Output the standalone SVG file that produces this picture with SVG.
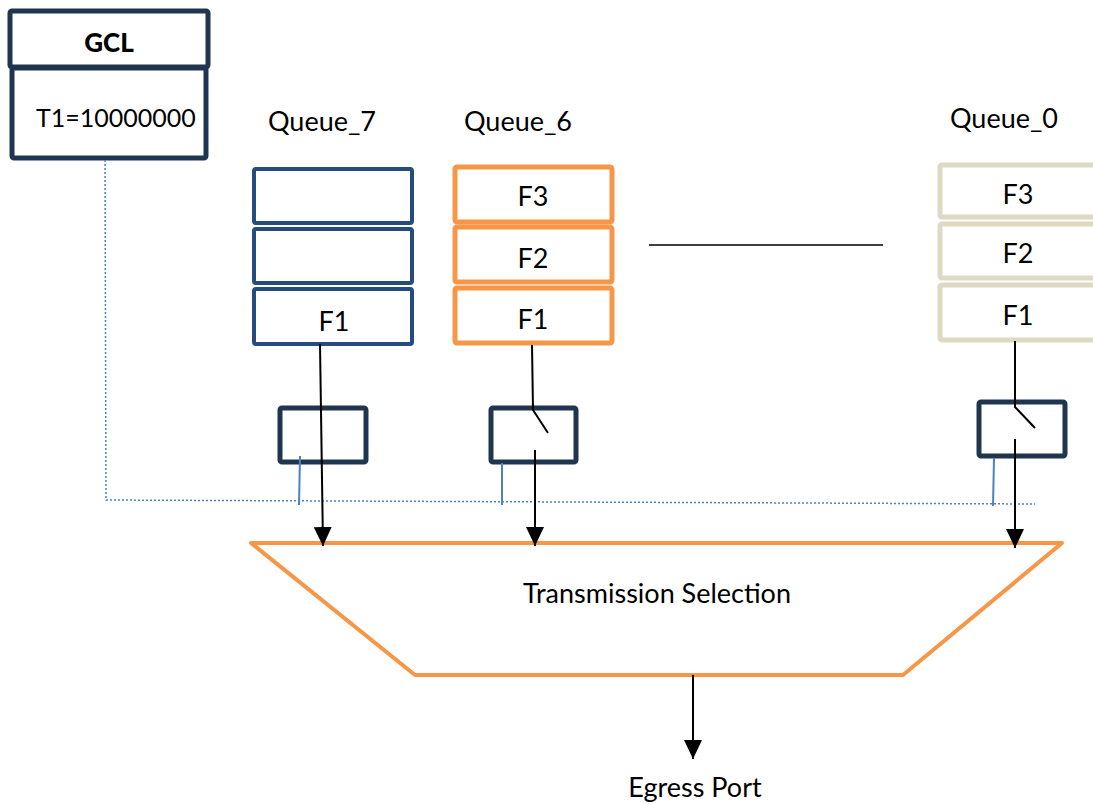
<svg xmlns="http://www.w3.org/2000/svg" width="1093" height="804" viewBox="0 0 1093 804">
<defs>
<marker id="arr" markerWidth="19" markerHeight="18" refX="19" refY="9" orient="auto" markerUnits="userSpaceOnUse" viewBox="0 0 19 18">
<path d="M0,0 L19,9 L0,18 Z" fill="#000"/>
</marker>
<style>
text{font-family:Lato,"Open Sans",sans-serif;fill:#000}
.lbl{font-size:27px;text-anchor:middle}
.q7{fill:#fff;stroke:#244C7E;stroke-width:4}
.q6{fill:#fff;stroke:#F79646;stroke-width:5}
.q0{fill:#fff;stroke:#DDD9C3;stroke-width:5}
.gate{fill:#fff;stroke:#1F3550;stroke-width:5}
.wire{stroke:#000;stroke-width:2;fill:none}
.blue{stroke:#4F81BD;stroke-width:2;fill:none}
</style>
</defs>
<rect width="1093" height="804" fill="#fff"/>

<g id="gcl">
<rect x="12" y="68" width="194" height="90" fill="#fff" stroke="#1F3550" stroke-width="5" rx="2"/>
<rect x="10" y="11" width="198" height="56" fill="#fff" stroke="#1F3550" stroke-width="5" rx="2"/>
<text x="109" y="52" class="lbl" style="font-weight:900;font-size:26px">GCL</text>
<text x="36" y="127" style="font-size:25px">T1=10000000</text>
</g>

<g id="queue7">
<text x="322" y="131" class="lbl">Queue_7</text>
<rect x="254" y="169" width="158" height="54" class="q7" rx="2"/>
<rect x="254" y="229" width="158" height="54" class="q7" rx="2"/>
<rect x="254" y="289" width="158" height="55" class="q7" rx="2"/>
<text x="334" y="331" class="lbl">F1</text>
</g>

<g id="queue6">
<text x="518" y="131" class="lbl">Queue_6</text>
<rect x="455" y="167" width="157" height="55" class="q6" rx="2"/>
<rect x="455" y="227" width="157" height="55" class="q6" rx="2"/>
<rect x="455" y="288" width="157" height="55" class="q6" rx="2"/>
<text x="533" y="206" class="lbl">F3</text>
<text x="533" y="268" class="lbl">F2</text>
<text x="533" y="329" class="lbl">F1</text>
</g>

<g id="queue0">
<text x="1004" y="128" class="lbl">Queue_0</text>
<rect x="940" y="165" width="160" height="52" class="q0" rx="2"/>
<rect x="940" y="224" width="160" height="54" class="q0" rx="2"/>
<rect x="940" y="285" width="160" height="55" class="q0" rx="2"/>
<text x="1018" y="204" class="lbl">F3</text>
<text x="1018" y="263" class="lbl">F2</text>
<text x="1018" y="325" class="lbl">F1</text>
</g>

<g id="gate7"><rect x="280" y="408" width="86" height="54" class="gate" rx="2"/></g>
<g id="gate6"><rect x="491" y="408" width="85" height="54" class="gate" rx="2"/></g>
<g id="gate0"><rect x="979" y="402" width="86" height="54" class="gate" rx="2"/></g>

<g id="selection">
<polygon points="251,543 1062,543 903,675 415,675" fill="none" stroke="#F79646" stroke-width="4" stroke-linejoin="round"/>
<text x="657" y="603" class="lbl">Transmission Selection</text>
</g>

<g id="egress">
<text x="695" y="797" class="lbl">Egress Port</text>
</g>

<g id="connectors">
<line x1="649" y1="245" x2="883" y2="245" stroke="#000" stroke-width="1.5"/>
<polyline points="105,160 106,500 1035,504" fill="none" stroke="#4F81BD" stroke-width="1.5" stroke-dasharray="2,2"/>
<line x1="300" y1="456" x2="299" y2="505" class="blue"/>
<line x1="502" y1="463" x2="502" y2="505" class="blue"/>
<line x1="994" y1="458" x2="993" y2="506" class="blue"/>
<line x1="320" y1="344" x2="323" y2="546" class="wire" marker-end="url(#arr)"/>
<polyline points="532,345 533,410 548,433" class="wire"/>
<line x1="535" y1="450" x2="535" y2="546" class="wire" marker-end="url(#arr)"/>
<polyline points="1015,341 1015,407 1035,428" class="wire"/>
<line x1="1015" y1="439" x2="1015" y2="548" class="wire" marker-end="url(#arr)"/>
<line x1="693" y1="675" x2="693" y2="759" class="wire" marker-end="url(#arr)"/>
</g>
</svg>
